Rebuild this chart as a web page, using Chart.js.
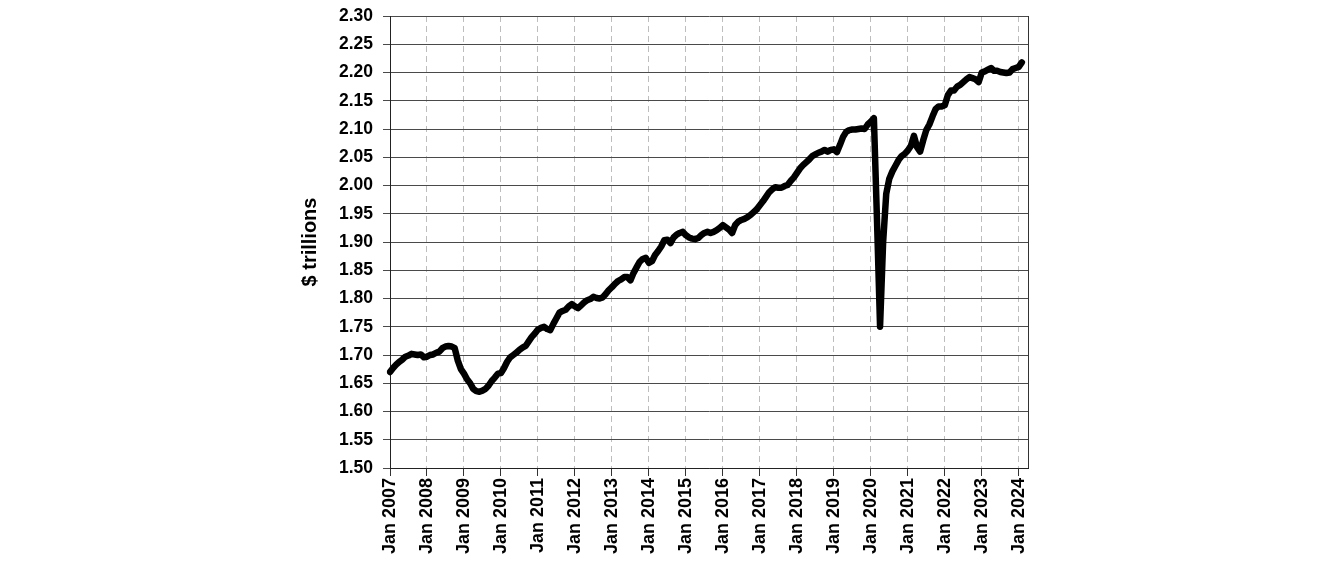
<!DOCTYPE html>
<html>
<head>
<meta charset="utf-8">
<script src="https://cdn.jsdelivr.net/npm/chart.js@4/dist/chart.umd.min.js"></script>
<style>
  html, body { margin: 0; padding: 0; background: #fff; }
  #wrap { width: 1324px; height: 571px; }
</style>
</head>
<body>
<div id="wrap"><canvas id="grafico" width="1324" height="571"></canvas></div>
<script>
// valores mensuales, $ trillions
const y2007 = [1.670, 1.677, 1.683, 1.688, 1.692, 1.697, 1.699, 1.702, 1.701, 1.700, 1.701, 1.696];
const y2008 = [1.697, 1.700, 1.701, 1.704, 1.706, 1.712, 1.715, 1.716, 1.715, 1.712, 1.690, 1.675];
const y2009 = [1.667, 1.657, 1.650, 1.640, 1.636, 1.635, 1.637, 1.640, 1.646, 1.654, 1.660, 1.667];
const y2010 = [1.668, 1.677, 1.688, 1.696, 1.700, 1.704, 1.709, 1.713, 1.716, 1.724, 1.732, 1.738];
const y2011 = [1.745, 1.748, 1.750, 1.746, 1.744, 1.755, 1.765, 1.775, 1.778, 1.780, 1.786, 1.790];
const y2012 = [1.786, 1.783, 1.788, 1.793, 1.797, 1.799, 1.803, 1.801, 1.800, 1.802, 1.808, 1.815];
const y2013 = [1.820, 1.826, 1.831, 1.834, 1.838, 1.838, 1.832, 1.845, 1.855, 1.865, 1.870, 1.872];
const y2014 = [1.863, 1.866, 1.877, 1.884, 1.892, 1.903, 1.904, 1.898, 1.908, 1.913, 1.916, 1.918];
const y2015 = [1.912, 1.908, 1.906, 1.905, 1.907, 1.912, 1.916, 1.918, 1.916, 1.918, 1.921, 1.925];
const y2016 = [1.930, 1.926, 1.922, 1.916, 1.930, 1.936, 1.939, 1.941, 1.944, 1.948, 1.953, 1.958];
const y2017 = [1.965, 1.972, 1.980, 1.988, 1.993, 1.997, 1.996, 1.996, 1.999, 2.001, 2.008, 2.014];
const y2018 = [2.022, 2.030, 2.036, 2.041, 2.046, 2.052, 2.055, 2.058, 2.060, 2.063, 2.060, 2.063];
const y2019 = [2.064, 2.059, 2.072, 2.086, 2.095, 2.098, 2.099, 2.099, 2.100, 2.101, 2.100, 2.108];
const y2020 = [2.113, 2.119, 1.940, 1.750, 1.900, 1.985, 2.012, 2.025, 2.035, 2.045, 2.052, 2.056];
const y2021 = [2.062, 2.070, 2.088, 2.068, 2.060, 2.080, 2.098, 2.108, 2.122, 2.135, 2.140, 2.140];
const y2022 = [2.142, 2.160, 2.168, 2.168, 2.175, 2.178, 2.183, 2.188, 2.192, 2.190, 2.188, 2.183];
const y2023 = [2.200, 2.202, 2.205, 2.208, 2.203, 2.203, 2.201, 2.200, 2.199, 2.200, 2.206, 2.208];
const y2024 = [2.210, 2.218];

const valores = [].concat(y2007, y2008, y2009, y2010, y2011, y2012, y2013, y2014, y2015,
    y2016, y2017, y2018, y2019, y2020, y2021, y2022, y2023, y2024);

// categorias: meses de Jan 2007 a Apr 2024 (el eje llega un poco mas alla del ultimo dato)
const meses = ["Jan", "Feb", "Mar", "Apr", "May", "Jun", "Jul", "Aug", "Sep", "Oct", "Nov", "Dec"];
const categorias = [];
for (let anio = 2007; anio <= 2024; anio++) {
    for (const m of meses) categorias.push(m + " " + anio);
}
categorias.length = 208;

const yMin = 1.50;
const yMax = 2.30;
const yPaso = 0.05;

const fuente = "'Liberation Sans', Arial, sans-serif";

// linea del borde derecho del area de trazado
const marcoDerecho = {
    id: "marcoDerecho",
    afterDraw(chart) {
        const { ctx, chartArea } = chart;
        ctx.save();
        ctx.strokeStyle = "#333";
        ctx.lineWidth = 1;
        ctx.beginPath();
        ctx.moveTo(chartArea.right + 0.5, chartArea.top);
        ctx.lineTo(chartArea.right + 0.5, chartArea.bottom);
        ctx.stroke();
        ctx.restore();
    }
};

const esEnero = (ctx) => ctx.index % 12 === 0;

new Chart(document.getElementById("grafico"), {
    type: "line",
    data: {
        labels: categorias,
        datasets: [{
            data: valores,
            borderColor: "#000",
            borderWidth: 6.5,
            borderJoinStyle: "round",
            borderCapStyle: "round",
            pointRadius: 0,
            tension: 0,
            fill: false
        }]
    },
    options: {
        responsive: false,
        animation: false,
        events: [],
        layout: { padding: { left: 290, right: 296, top: 16, bottom: 0 } },
        plugins: { legend: { display: false }, tooltip: { enabled: false } },
        scales: {
            x: {
                type: "category",
                offset: false,
                afterFit: (s) => { s.height = 103; s.paddingLeft = 0; s.paddingRight = 0; },
                grid: {
                    color: (c) => esEnero(c) ? "#bdbdbd" : "rgba(0,0,0,0)",
                    tickColor: (c) => esEnero(c) ? "#333" : "rgba(0,0,0,0)",
                    lineWidth: 1,
                    tickLength: 8,
                    drawTicks: true
                },
                border: { display: true, color: "#222", width: 1, dash: [6, 4] },
                ticks: {
                    autoSkip: false,
                    minRotation: 90,
                    maxRotation: 90,
                    padding: 2,
                    color: "#000",
                    font: { family: fuente, size: 18, weight: "bold" },
                    callback: function (v, i) { return i % 12 === 0 ? categorias[i] : ""; }
                }
            },
            y: {
                min: yMin,
                max: yMax,
                afterFit: (s) => { s.width = 100; s.paddingTop = 0; s.paddingBottom = 0; },
                grid: {
                    color: "#4a4a4a",
                    tickColor: "#4a4a4a",
                    lineWidth: 1,
                    tickLength: 7
                },
                border: { display: true, color: "#222", width: 1 },
                ticks: {
                    stepSize: yPaso,
                    padding: 10,
                    color: "#000",
                    font: { family: fuente, size: 17.5, weight: "bold" },
                    callback: (v) => v.toFixed(2)
                },
                title: {
                    display: true,
                    text: "$ trillions",
                    color: "#000",
                    padding: { top: 8, bottom: 0 },
                    font: { family: fuente, size: 20, weight: "bold" }
                }
            }
        }
    },
    plugins: [marcoDerecho]
});
</script>
</body>
</html>
